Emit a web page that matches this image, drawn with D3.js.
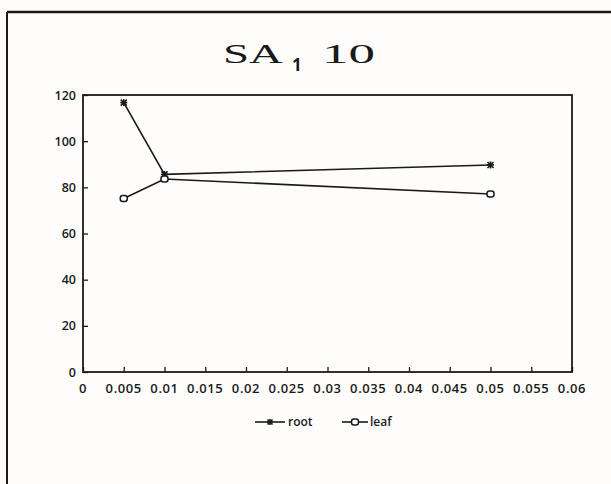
<!DOCTYPE html>
<html><head><meta charset="utf-8">
<script src="https://cdn.jsdelivr.net/npm/d3@7"></script>
<style>body{margin:0;background:#fff}svg{display:block}</style>
</head><body>
<script>
const concentrations = [0.005, 0.01, 0.05];
const rootValues = [116.7, 85.6, 89.7];
const leafValues = [75.2, 83.6, 77.1];
const xTicks = [0,0.005,0.01,0.015,0.02,0.025,0.03,0.035,0.04,0.045,0.05,0.055,0.06];
const xTickLabels = ["0","0.005","0.01","0.015","0.02","0.025","0.03","0.035","0.04","0.045","0.05","0.055","0.06"];
const yTicks = [0,20,40,60,80,100,120];
const seriesNames = ["root","leaf"];

const W=611,H=484;
const svg=d3.select("body").append("svg").attr("width",W).attr("height",H);
svg.append("rect").attr("width",W).attr("height",H).attr("fill","#fefdfb");
const ink="#1a1a1a";
// page border
svg.append("line").attr("x1",7).attr("x2",W).attr("y1",12).attr("y2",12).attr("stroke",ink).attr("stroke-width",2.5);
svg.append("line").attr("x1",7).attr("x2",7).attr("y1",12).attr("y2",H).attr("stroke",ink).attr("stroke-width",2);

const L=83,R=572,T=95,B=372;
const x=d3.scaleLinear().domain([0,0.06]).range([L,R]);
const y=d3.scaleLinear().domain([0,120]).range([B,T]);

// title
const title=svg.append("text").attr("y",63).attr("fill",ink)
  .attr("font-family","Liberation Serif, serif").attr("font-size",28);
title.append("tspan").attr("x",223).attr("textLength",60).attr("lengthAdjust","spacingAndGlyphs").text("SA");
title.append("tspan").attr("x",292).attr("dy",8).attr("font-size",17).attr("font-weight","bold")
  .attr("font-family","Open Sans, sans-serif").text("1");
title.append("tspan").attr("x",322).attr("dy",-8).attr("textLength",53).attr("lengthAdjust","spacingAndGlyphs").text("10");

// frame
svg.append("rect").attr("x",L).attr("y",T).attr("width",R-L).attr("height",B-T)
  .attr("fill","none").attr("stroke",ink).attr("stroke-width",1.8);

const fontF="Open Sans, Liberation Sans, sans-serif";
// x axis
const xa=svg.append("g").attr("transform",`translate(0,${B})`)
  .call(d3.axisTop(x).tickValues(xTicks).tickSize(5).tickFormat((d,i)=>""));
xa.select(".domain").remove();
xa.selectAll("line").attr("stroke",ink).attr("stroke-width",1.3);
svg.append("g").selectAll("text").data(xTicks).join("text")
  .attr("x",d=>x(d)).attr("y",393).attr("text-anchor","middle")
  .attr("font-family",fontF).attr("font-size",13).attr("font-weight",600)
  .attr("letter-spacing",0.6).attr("fill",ink)
  .text((d,i)=>xTickLabels[i]);

// y axis
const ya=svg.append("g").attr("transform",`translate(${L},0)`)
  .call(d3.axisRight(y).tickValues(yTicks).tickSize(5).tickFormat(""));
ya.select(".domain").remove();
ya.selectAll("line").attr("stroke",ink).attr("stroke-width",1.3);
svg.append("g").selectAll("text").data(yTicks).join("text")
  .attr("x",76).attr("y",d=>y(d)+4.5).attr("text-anchor","end")
  .attr("font-family",fontF).attr("font-size",12.5).attr("font-weight",600)
  .attr("fill",ink).text(d=>d);

const line=d3.line().x(d=>x(d[0])).y(d=>y(d[1]));
const rootPts=concentrations.map((c,i)=>[c,rootValues[i]]);
const leafPts=concentrations.map((c,i)=>[c,leafValues[i]]);
[rootPts,leafPts].forEach(p=>svg.append("path").attr("d",line(p)).attr("fill","none")
  .attr("stroke",ink).attr("stroke-width",1.6));

function star(g,cx,cy,s){
  const a=g.append("g").attr("stroke",ink).attr("stroke-width",1.6);
  a.append("line").attr("x1",cx-s).attr("x2",cx+s).attr("y1",cy-s).attr("y2",cy+s);
  a.append("line").attr("x1",cx-s).attr("x2",cx+s).attr("y1",cy+s).attr("y2",cy-s);
  a.append("line").attr("x1",cx).attr("x2",cx).attr("y1",cy-s-0.5).attr("y2",cy+s+0.5);
  a.append("line").attr("x1",cx-s-0.5).attr("x2",cx+s+0.5).attr("y1",cy).attr("y2",cy);
}
function ring(g,cx,cy){
  g.append("rect").attr("x",cx-3.5).attr("y",cy-3).attr("width",7).attr("height",6).attr("rx",2.5)
   .attr("fill","#fff").attr("stroke",ink).attr("stroke-width",1.5);
}
const mk=svg.append("g");
rootPts.forEach(p=>star(mk,x(p[0]),y(p[1]),3));
leafPts.forEach(p=>ring(mk,x(p[0]),y(p[1])));

// legend
const lg=svg.append("g");
lg.append("line").attr("x1",255).attr("x2",285).attr("y1",422).attr("y2",422).attr("stroke",ink).attr("stroke-width",1.6);
star(lg,270,422,2.5);
lg.append("text").attr("x",288).attr("y",426).text(seriesNames[0]);
lg.append("line").attr("x1",342).attr("x2",368).attr("y1",422).attr("y2",422).attr("stroke",ink).attr("stroke-width",1.6);
ring(lg,355,422);
lg.append("text").attr("x",370).attr("y",426).text(seriesNames[1]);
lg.selectAll("text").attr("font-family",fontF).attr("font-size",12).attr("font-weight",600).attr("fill",ink);
</script>
</body></html>
